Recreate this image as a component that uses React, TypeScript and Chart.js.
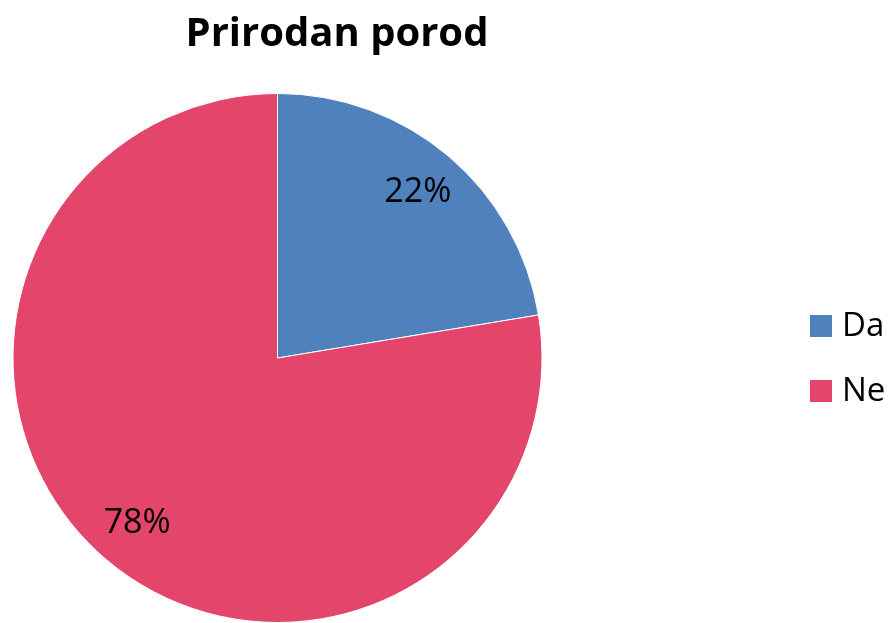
import React, { useEffect, useRef } from "react";
import { Chart, registerables } from "chart.js";

Chart.register(...registerables);

const TITLE = "Prirodan porod";
const categories = ["Da", "Ne"];
const values = [22.4, 77.6];
const colors = ["#4F81BD", "#E4466B"];
const FONT = "'Open Sans', 'Noto Sans', sans-serif";

const overlay = {
  id: "overlay",
  afterDraw(chart: any) {
    const ctx = chart.ctx as CanvasRenderingContext2D;
    const meta = chart.getDatasetMeta(0);
    const data = chart.data.datasets[0].data as number[];
    const total = data.reduce((a, b) => a + b, 0);
    ctx.save();
    // title
    ctx.fillStyle = "#000";
    ctx.font = `bold 40px ${FONT}`;
    ctx.textAlign = "center";
    ctx.textBaseline = "alphabetic";
    ctx.fillText(TITLE, 337, 46);
    // data labels
    ctx.font = `34px ${FONT}`;
    ctx.textBaseline = "middle";
    meta.data.forEach((arc: any, i: number) => {
      const pct = Math.round((data[i] / total) * 100) + "%";
      const mid = (arc.startAngle + arc.endAngle) / 2;
      const r = arc.outerRadius * 0.82;
      const x = arc.x + Math.cos(mid) * r;
      const y = arc.y + Math.sin(mid) * r;
      ctx.fillText(pct, x, y);
    });
    // legend
    ctx.textAlign = "left";
    ctx.font = `33px ${FONT}`;
    (chart.data.labels as string[]).forEach((lab: string, i: number) => {
      const y0 = 315 + i * 65;
      ctx.fillStyle = colors[i];
      ctx.fillRect(810, y0, 22, 22);
      ctx.fillStyle = "#000";
      ctx.fillText(lab, 842, y0 + 12);
    });
    ctx.restore();
  },
};

export default function App() {
  const ref = useRef<HTMLCanvasElement>(null);
  useEffect(() => {
    const chart = new Chart(ref.current!, {
      type: "pie",
      data: {
        labels: categories,
        datasets: [
          {
            data: values,
            backgroundColor: colors,
            borderColor: "#ffffff",
            borderWidth: 1,
          },
        ],
      },
      options: {
        animation: false,
        responsive: false,
        maintainAspectRatio: false,
        layout: { padding: { top: 93, left: 12, right: 348, bottom: 0 } },
        plugins: {
          legend: { display: false },
          title: { display: false },
          tooltip: { enabled: false },
        },
      },
      plugins: [overlay],
    });
    return () => chart.destroy();
  }, []);
  return (
    <div style={{ position: "fixed", left: 0, top: 0, width: 891, height: 623, background: "#fff" }}>
      <canvas ref={ref} width={891} height={623} style={{ width: 891, height: 623 }} />
    </div>
  );
}
